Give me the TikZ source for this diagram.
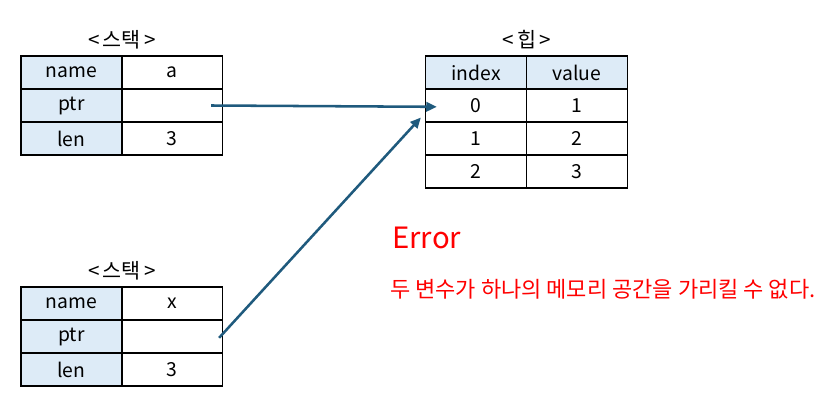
\documentclass[tikz,border=0pt]{standalone}
\usepackage{fontspec}
\setmainfont{Noto Sans CJK KR}
\usetikzlibrary{arrows.meta}

\definecolor{mem@head}{RGB}{221,235,247}
\definecolor{mem@arrow}{RGB}{31,90,125}
\definecolor{mem@err}{RGB}{255,0,0}

\begin{document}
\begin{tikzpicture}[x=0.75pt, y=-0.75pt, font=\fontsize{14.5}{16}\selectfont,
    cell/.style={draw, line width=0.9pt, minimum width=101*0.75pt,
      minimum height=33*0.75pt, inner sep=0pt},
    headcell/.style={cell, fill=mem@head},
    ptrarrow/.style={tbl@arrowline, -{Triangle[length=8pt, width=7pt]}},
    tbl@arrowline/.style={draw=mem@arrow, line width=1.9pt},
    framelbl/.style={font=\fontsize{15.5}{17}\selectfont}]

  % Canvas in pixel units, y grows downwards
  \path[use as bounding box] (0,0) rectangle (837,406);

  % ---- STACK FRAMES (a above, x below) ----
  \foreach \nm/\yt/\val in {a/56/a, x/287/x} {
    \node[framelbl] (\nm-lbl) at (122,{\yt-16}) {<\,스택\,>};
    \foreach \i/\key/\v in {0/name/\val, 1/ptr/{}, 2/len/3} {
      \node[headcell] (\nm-\key-k) at (71.5,{\yt+16.5+33*\i}) {\key};
      \node[cell] (\nm-\key-v) at (172,{\yt+16.5+33*\i}) {\v};
    }
  }

  % ---- HEAP ----
  \node[framelbl] (heap-lbl) at (527,40) {<\,힙\,>};
  \node[headcell] (heap-h-i) at (476,72.5) {index};
  \node[headcell] (heap-h-v) at (577,72.5) {value};
  \foreach \i/\v in {0/1, 1/2, 2/3} {
    \node[cell] (heap-\i-i) at (476,{105.5+33*\i}) {\i};
    \node[cell] (heap-\i-v) at (577,{105.5+33*\i}) {\v};
  }

  % Pointers: both ptr cells aim at heap slot 0
  \draw[ptrarrow] ([xshift=-9pt]a-ptr-v.east) -- ([xshift=9pt, yshift=-1pt]heap-0-i.west);
  \draw[ptrarrow] ([xshift=-3pt, yshift=-1pt]x-ptr-v.east) -- ([xshift=-3pt, yshift=-9pt]heap-0-i.west);

  % ---- ERROR NOTE ----
  \node[anchor=west, inner sep=0pt, text=mem@err, font=\fontsize{22}{24}\selectfont]
    (err) at (392,238) {Error};
  \node[anchor=west, inner sep=0pt, text=mem@err, font=\fontsize{16.5}{18}\selectfont]
    (err-msg) at (390,289) {두 변수가 하나의 메모리 공간을 가리킬 수 없다.};
\end{tikzpicture}
\end{document}
